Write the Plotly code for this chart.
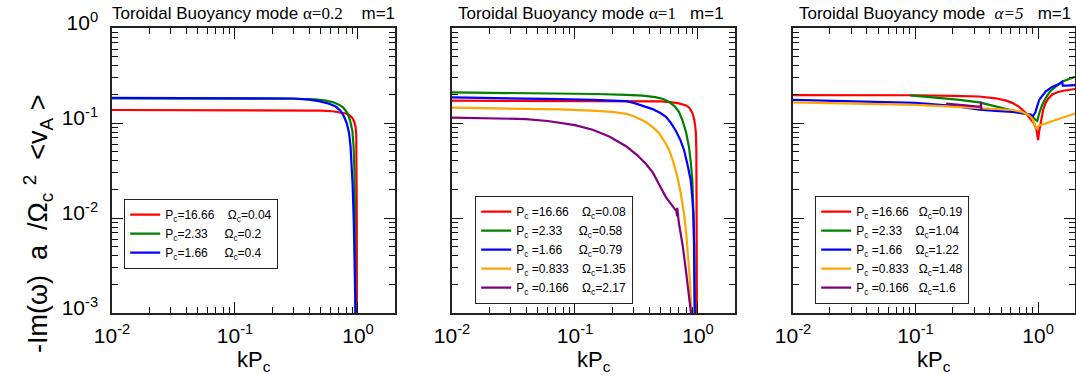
import plotly.graph_objects as go

NB = "\u00a0"

# ---------------- tick labels ----------------
x_tick_vals = [0.01, 0.1, 1]
x_tick_text = ["10<sup>-2</sup>", "10<sup>-1</sup>", "10<sup>0</sup>"]
y_tick_vals = [0.001, 0.01, 0.1, 1]
y_tick_text = ["10<sup>-3</sup>", "10<sup>-2</sup>", "10<sup>-1</sup>", "10<sup>0</sup>"]

SERIF = "<span style='font-family:Liberation Serif'>"
panel_titles = [
    "Toroidal Buoyancy mode" + NB + SERIF + "α=0.2</span>" + NB * 4 + "m=1",
    "Toroidal Buoyancy mode" + NB + SERIF + "α=1</span>" + NB * 3 + "m=1",
    "Toroidal Buoyancy mode" + NB * 2 + SERIF + "<i>α=5</i></span>" + NB * 3 + "m=1",
]
x_title = "kP<sub>c</sub>"
y_title = ("-Im(ω)" + NB * 2 + "a" + NB * 2 + "/Ω<sub>c</sub>" + NB + "<sup>2</sup>" + NB * 2
           + "&lt;v<sub>A</sub>" + NB + "&gt;")

series_colors = ["#ff0000", "#008000", "#0000ff", "#ffa500", "#800080"]

# ---------------- panel 1 : alpha = 0.2 ----------------
a1_names = [
    "P<sub>c</sub>=16.66" + NB * 4 + "Ω<sub>c</sub>=0.04",
    "P<sub>c</sub>=2.33" + NB * 5 + "Ω<sub>c</sub>=0.2",
    "P<sub>c</sub>=1.66" + NB * 5 + "Ω<sub>c</sub>=0.4",
]
a1_red_k = [0.01, 0.1, 0.3, 0.5, 0.62, 0.72, 0.80, 0.85, 0.90, 0.93, 0.955, 0.968, 0.974, 0.977, 0.979, 0.98]
a1_red_w = [0.137, 0.137, 0.136, 0.135, 0.133, 0.130, 0.126, 0.121, 0.113, 0.104, 0.092, 0.075, 0.04, 0.012, 0.003, 0.0006]
a1_green_k = [0.01, 0.1, 0.3, 0.45, 0.55, 0.63, 0.70, 0.76, 0.82, 0.86, 0.90, 0.92, 0.935, 0.945, 0.952, 0.956]
a1_green_w = [0.182, 0.182, 0.180, 0.177, 0.172, 0.165, 0.156, 0.145, 0.127, 0.108, 0.083, 0.058, 0.032, 0.012, 0.003, 0.0006]
a1_blue_k = [0.01, 0.1, 0.3, 0.40, 0.48, 0.56, 0.62, 0.66, 0.72, 0.77, 0.81, 0.845, 0.87, 0.887, 0.905, 0.925, 0.945, 0.958, 0.962]
a1_blue_w = [0.184, 0.184, 0.181, 0.176, 0.170, 0.162, 0.155, 0.149, 0.135, 0.117, 0.100, 0.079, 0.057, 0.040, 0.022, 0.009, 0.003, 0.0012, 0.0006]

# ---------------- panel 2 : alpha = 1 ----------------
a2_names = [
    "P<sub>c</sub>" + NB + "=16.66" + NB * 4 + "Ω<sub>c</sub>=0.08",
    "P<sub>c</sub>" + NB + "=2.33" + NB * 5 + "Ω<sub>c</sub>=0.58",
    "P<sub>c</sub>" + NB + "=1.66" + NB * 5 + "Ω<sub>c</sub>=0.79",
    "P<sub>c</sub>" + NB + "=0.833" + NB * 4 + "Ω<sub>c</sub>=1.35",
    "P<sub>c</sub>" + NB + "=0.166" + NB * 4 + "Ω<sub>c</sub>=2.17",
]
a2_red_k = [0.01, 0.1, 0.3, 0.5, 0.6, 0.7, 0.8, 0.85, 0.9, 0.93, 0.95, 0.962, 0.97, 0.975, 0.979, 0.982]
a2_red_w = [0.172, 0.172, 0.171, 0.169, 0.166, 0.161, 0.153, 0.145, 0.128, 0.110, 0.092, 0.078, 0.05, 0.02, 0.005, 0.0006]
a2_green_k = [0.01, 0.03, 0.075, 0.15, 0.26, 0.354, 0.45, 0.52, 0.582, 0.65, 0.70, 0.746, 0.80, 0.845, 0.875, 0.90, 0.928, 0.94, 0.952]
a2_green_w = [0.210, 0.208, 0.205, 0.202, 0.198, 0.194, 0.187, 0.179, 0.167, 0.149, 0.131, 0.108, 0.080, 0.056, 0.038, 0.025, 0.0074, 0.003, 0.0006]
a2_blue_k = [0.01, 0.03, 0.075, 0.14, 0.26, 0.30, 0.354, 0.427, 0.49, 0.547, 0.60, 0.66, 0.72, 0.77, 0.82, 0.873, 0.90, 0.916, 0.93, 0.942]
a2_blue_w = [0.186, 0.183, 0.178, 0.175, 0.170, 0.163, 0.151, 0.140, 0.128, 0.117, 0.101, 0.083, 0.066, 0.052, 0.037, 0.025, 0.016, 0.0112, 0.005, 0.0006]
a2_orange_k = [0.01, 0.03, 0.075, 0.139, 0.20, 0.26, 0.30, 0.354, 0.378, 0.43, 0.483, 0.53, 0.582, 0.63, 0.68, 0.72, 0.77, 0.80, 0.835, 0.86, 0.892]
a2_orange_w = [0.145, 0.143, 0.139, 0.135, 0.131, 0.125, 0.118, 0.107, 0.102, 0.090, 0.078, 0.065, 0.052, 0.039, 0.027, 0.019, 0.0112, 0.0072, 0.0039, 0.0022, 0.0008]
a2_purple_k = [0.01, 0.02, 0.04, 0.06, 0.075, 0.10, 0.139, 0.19, 0.26, 0.32, 0.378, 0.43, 0.483, 0.55, 0.62, 0.668, 0.676, 0.678, 0.70, 0.75, 0.795, 0.85, 0.90, 0.92]
a2_purple_w = [0.114, 0.113, 0.110, 0.105, 0.101, 0.095, 0.085, 0.072, 0.057, 0.046, 0.037, 0.030, 0.0225, 0.0165, 0.0134, 0.0118, 0.0104, 0.0128, 0.0088, 0.0052, 0.0029, 0.0015, 0.0009, 0.0006]

# ---------------- panel 3 : alpha = 5 ----------------
a3_names = [
    "P<sub>c</sub>" + NB + "=16.66" + NB * 3 + "Ω<sub>c</sub>=0.19",
    "P<sub>c</sub>" + NB + "=2.33" + NB * 4 + "Ω<sub>c</sub>=1.04",
    "P<sub>c</sub>" + NB + "=1.66" + NB * 4 + "Ω<sub>c</sub>=1.22",
    "P<sub>c</sub>" + NB + "=0.833" + NB * 3 + "Ω<sub>c</sub>=1.48",
    "P<sub>c</sub>" + NB + "=0.166" + NB * 3 + "Ω<sub>c</sub>=1.6",
]
a3_red_k = [0.01, 0.05, 0.1, 0.2, 0.33, 0.45, 0.55, 0.62, 0.70, 0.79, 0.87, 0.93, 0.97, 0.99, 1.0, 1.02, 1.05, 1.1, 1.15, 1.21, 1.3, 1.45, 1.65, 2.0]
a3_red_w = [0.197, 0.198, 0.196, 0.193, 0.190, 0.182, 0.172, 0.162, 0.148, 0.128, 0.110, 0.098, 0.085, 0.072, 0.066, 0.082, 0.100, 0.138, 0.162, 0.180, 0.200, 0.212, 0.220, 0.228]
a3_green_k = [0.09, 0.15, 0.22, 0.331, 0.453, 0.618, 0.75, 0.87, 0.955, 0.985, 1.02, 1.08, 1.15, 1.25, 1.39, 1.6, 2.0]
a3_green_w = [0.195, 0.185, 0.176, 0.165, 0.149, 0.137, 0.128, 0.121, 0.108, 0.105, 0.126, 0.155, 0.182, 0.215, 0.241, 0.275, 0.307]
a3_blue_k = [0.01, 0.05, 0.1, 0.2, 0.331, 0.45, 0.618, 0.80, 0.87, 0.91, 0.95, 1.02, 1.15, 1.3, 1.48, 1.57, 1.59, 1.7, 2.0]
a3_blue_w = [0.175, 0.168, 0.163, 0.152, 0.138, 0.134, 0.131, 0.125, 0.123, 0.118, 0.130, 0.175, 0.214, 0.240, 0.257, 0.272, 0.247, 0.248, 0.250]
a3_orange_k = [0.01, 0.05, 0.1, 0.2, 0.331, 0.45, 0.618, 0.75, 0.843, 0.90, 0.94, 0.97, 0.985, 1.02, 1.1, 1.3, 1.6, 2.0]
a3_orange_w = [0.165, 0.158, 0.155, 0.149, 0.143, 0.140, 0.137, 0.130, 0.121, 0.110, 0.097, 0.086, 0.090, 0.094, 0.097, 0.104, 0.114, 0.126]
a3_purple_k = [0.178, 0.25, 0.34, 0.342, 0.344]
a3_purple_w = [0.160, 0.155, 0.148, 0.168, 0.138]

panels = [
    dict(names=a1_names, series=[(a1_red_k, a1_red_w), (a1_green_k, a1_green_w), (a1_blue_k, a1_blue_w)]),
    dict(names=a2_names, series=[(a2_red_k, a2_red_w), (a2_green_k, a2_green_w), (a2_blue_k, a2_blue_w),
                                 (a2_orange_k, a2_orange_w), (a2_purple_k, a2_purple_w)]),
    dict(names=a3_names, series=[(a3_red_k, a3_red_w), (a3_green_k, a3_green_w), (a3_blue_k, a3_blue_w),
                                 (a3_orange_k, a3_orange_w), (a3_purple_k, a3_purple_w)]),
]

W, H = 1076, 379
x_dom_px = [(112, 395), (452, 735), (793, 1075)]
y_dom_px = (28, 313)
legend_px = [(124, 199), (475, 196), (815, 196)]
title_px = [110, 456, 797]

FONT = "Liberation Sans, Arial, Helvetica, sans-serif"

fig = go.Figure()
for i, p in enumerate(panels):
    ax = "" if i == 0 else str(i + 1)
    leg = "legend" if i == 0 else "legend" + str(i + 1)
    for j, (k, w) in enumerate(p["series"]):
        fig.add_trace(go.Scatter(
            x=k, y=w, mode="lines", name=p["names"][j],
            line=dict(color=series_colors[j], width=2.2),
            xaxis="x" + ax, yaxis="y" + ax, legend=leg,
        ))

minor_x = [m * 10 ** e for e in (-2, -1) for m in range(2, 10)]
minor_y = [m * 10 ** e for e in (-3, -2, -1) for m in range(2, 10)]

layout = dict(
    width=W, height=H, margin=dict(l=0, r=0, t=0, b=0, pad=0, autoexpand=False),
    paper_bgcolor="white", plot_bgcolor="white",
    font=dict(family=FONT, color="black"),
    showlegend=True,
    annotations=[],
)
for i in range(3):
    ax = "" if i == 0 else str(i + 1)
    x0, x1 = x_dom_px[i]
    layout["xaxis" + ax] = dict(
        type="log", range=[-2, 0.301], domain=[x0 / W, x1 / W], automargin=False,
        anchor="y" + ax, tickmode="array", tickvals=x_tick_vals, ticktext=x_tick_text,
        ticks="inside", ticklen=11, tickwidth=1, tickcolor="#111",
        minor=dict(tickmode="array", tickvals=minor_x, ticks="inside", ticklen=6, tickwidth=1, tickcolor="#111", showgrid=False),
        showline=True, linecolor="#222", linewidth=1.5, mirror="allticks",
        showgrid=False, zeroline=False, tickfont=dict(size=21, family=FONT),
        ticklabelstandoff=3,
    )
    layout["yaxis" + ax] = dict(
        type="log", range=[-3, 0], domain=[1 - y_dom_px[1] / H, 1 - y_dom_px[0] / H], automargin=False,
        anchor="x" + ax, tickmode="array", tickvals=y_tick_vals, ticktext=y_tick_text,
        ticks="inside", ticklen=11, tickwidth=1, tickcolor="#111",
        minor=dict(tickmode="array", tickvals=minor_y, ticks="inside", ticklen=6, tickwidth=1, tickcolor="#111", showgrid=False),
        showline=True, linecolor="#222", linewidth=1.5, mirror="allticks",
        showgrid=False, zeroline=False, showticklabels=(i == 0),
        tickfont=dict(size=21, family=FONT), ticklabelstandoff=8, ticklabelshift=-5,
    )
    lx, ly = legend_px[i]
    layout["legend" if i == 0 else "legend" + str(i + 1)] = dict(
        x=lx / W, y=1 - ly / H, xanchor="left", yanchor="top", xref="paper", yref="paper",
        bgcolor="white", bordercolor="#222", borderwidth=1.2,
        font=dict(size=12, family=FONT), itemwidth=30, tracegroupgap=0,
    )
    layout["annotations"].append(dict(
        text=panel_titles[i], x=title_px[i] / W, y=1 - 13 / H, xref="paper", yref="paper",
        xanchor="left", yanchor="middle", showarrow=False, font=dict(size=17, family=FONT),
    ))
    layout["annotations"].append(dict(
        text=x_title, x=(x0 + x1) / 2 / W, y=1 - 361 / H, xref="paper", yref="paper",
        xanchor="center", yanchor="middle", showarrow=False, font=dict(size=22, family=FONT),
    ))

layout["annotations"].append(dict(
    text=y_title, x=38 / W, y=1 - 224 / H, xref="paper", yref="paper", textangle=-90,
    xanchor="center", yanchor="middle", showarrow=False, font=dict(size=27, family=FONT),
))

fig.update_layout(**layout)
fig.write_html("out.html")
